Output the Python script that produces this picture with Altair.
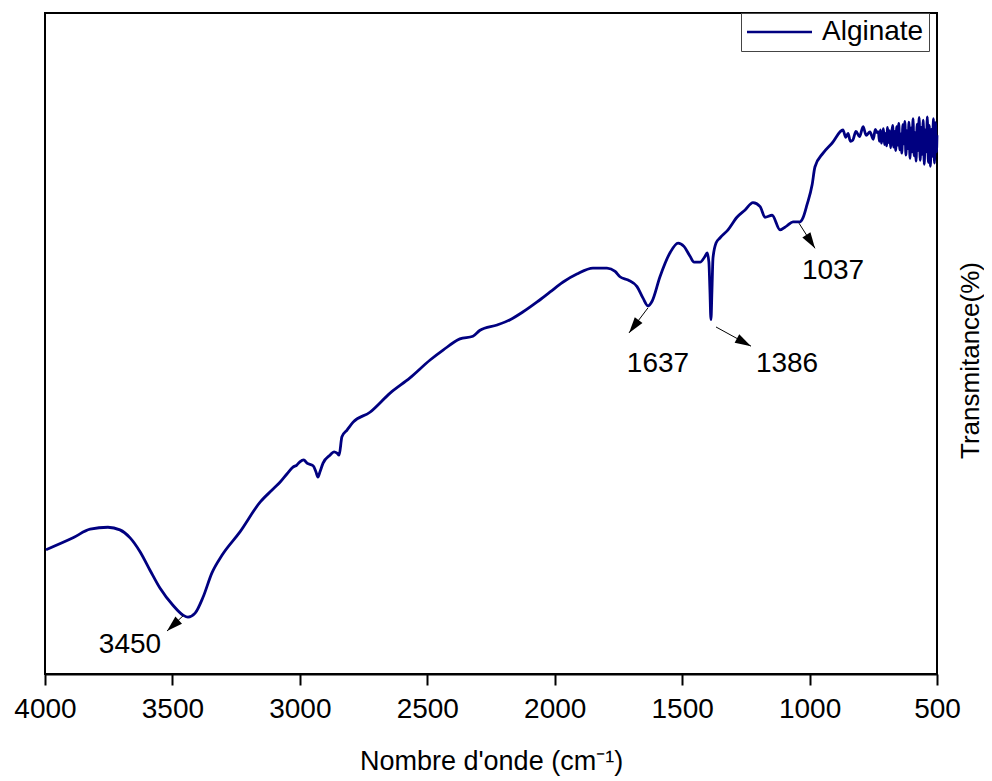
import altair as alt
import pandas as pd

FONT = "Liberation Sans"

# ---- spectrum (wavenumber cm-1, transmittance a.u.) ----
wavenumber = [3996, 3890, 3823, 3753, 3706, 3666, 3627, 3588, 3549, 3498, 3458, 3439,
              3411, 3380, 3345, 3305, 3235, 3156, 3110, 3078, 3050, 3027, 3012, 3000,
              2985, 2972, 2948, 2937, 2929, 2921, 2909, 2882, 2866, 2854, 2846, 2835,
              2815, 2791, 2725, 2646, 2568, 2489, 2438, 2372, 2321, 2293, 2226, 2175,
              2124, 2069, 2018, 1967, 1913, 1850, 1795, 1763, 1744, 1712, 1677, 1654,
              1634, 1618, 1587, 1548, 1516, 1493, 1469, 1453, 1430, 1410, 1402, 1395,
              1391, 1387, 1383, 1379, 1367, 1351, 1320, 1285, 1253, 1222, 1194, 1175,
              1147, 1116, 1089, 1065, 1038, 1026, 1010, 990, 979, 947, 912, 869, 858,
              849, 840, 830, 818, 804, 790, 778, 763, 750, 742, 735,
              730, 726, 722, 718, 714, 710, 706, 702, 698, 694, 690, 686, 682, 678,
              674, 670, 666, 662, 658, 654, 650, 646, 642, 638, 634, 630, 626, 622,
              618, 614, 610, 606, 602, 598, 594, 590, 586, 582, 578, 574, 570, 566,
              562, 558, 554, 550, 546, 542, 538, 534, 530, 526, 522, 518, 514, 510,
              506, 502, 500]
transmittance = [18.8, 20.6, 21.9, 22.2, 21.8, 20.6, 18.5, 15.7, 13.0, 10.4, 8.9, 8.6,
                 9.2, 11.6, 15.3, 18.0, 21.5, 26.0, 27.8, 29.0, 30.3, 31.3, 31.6, 32.1,
                 32.4, 31.9, 31.5, 30.6, 29.8, 30.6, 31.9, 33.1, 33.6, 33.4, 33.1, 35.9,
                 36.9, 38.1, 39.6, 42.5, 44.8, 47.5, 49.0, 50.7, 51.1, 52.0, 52.8, 53.6,
                 54.8, 56.3, 57.8, 59.3, 60.5, 61.4, 61.4, 60.9, 60.1, 59.6, 58.6, 56.9,
                 55.7, 56.4, 60.1, 63.7, 65.2, 64.7, 63.2, 62.3, 62.3, 63.2, 63.7, 62.3,
                 58.1, 53.6, 58.1, 62.9, 65.2, 66.0, 67.2, 69.1, 70.2, 71.3, 70.7, 69.1,
                 69.4, 67.2, 67.8, 68.4, 68.4, 69.0, 71.0, 74.0, 76.7, 78.8, 80.3, 82.3, 81.2,
                 81.8, 80.6, 80.8, 82.1, 81.3, 82.8, 81.5, 82.0, 80.9, 82.4, 81.9,
                 82.0, 80.6, 82.3, 80.3, 81.5, 82.5, 80.1, 81.8, 79.9, 82.7, 80.4, 82.2, 79.6, 81.6,
                 83.0, 79.7, 82.1, 79.2, 82.8, 80.0, 83.3, 79.3, 81.7, 78.8, 83.1, 80.2, 83.6, 78.5,
                 82.2, 79.5, 83.5, 78.0, 82.6, 79.0, 84.0, 78.4, 81.9, 77.6, 83.2, 79.2, 84.2, 77.7,
                 82.7, 78.6, 83.8, 77.1, 82.3, 79.0, 84.3, 77.4, 83.0, 76.8, 82.4, 78.3, 84.0, 77.3,
                 83.4, 79.0, 81.5]
series_name = "Alginate"

# ---- peak annotations ----
peak_labels = ["3450", "1637", "1386", "1037"]
arrow_start_wn = [3458.5, 1633.9, 1367.1, 1041.5]
arrow_start_t = [8.8, 55.4, 52.5, 68.2]
arrow_tip_wn = [3521.3, 1708.5, 1229.8, 978.7]
arrow_tip_t = [6.5, 51.6, 49.6, 64.4]
arrow_angle = [227, 217, 118.5, 147.4]
label_wn = [3666.5, 1594.7, 1088.5, 908.0]
label_t = [4.4, 46.9, 46.9, 61.0]

x_ticks = [4000, 3500, 3000, 2500, 2000, 1500, 1000, 500]

spec = pd.DataFrame({"wn": wavenumber, "t": transmittance, "series": series_name})
ann = pd.DataFrame({
    "label": peak_labels,
    "sw": arrow_start_wn, "st": arrow_start_t,
    "tw": arrow_tip_wn, "tt": arrow_tip_t,
    "angle": arrow_angle,
    "lw": label_wn, "lt": label_t,
})

x_scale = alt.Scale(domain=[500, 4000], reverse=True, nice=False, zero=False)
y_scale = alt.Scale(domain=[0, 100], nice=False, zero=False)

x_axis = alt.Axis(
    values=x_ticks, format="d", title="Nombre d'onde (cm⁻¹)",
    grid=False, tickSize=11, tickWidth=2, tickColor="black",
    domainColor="black", domainWidth=2,
    labelFont=FONT, labelFontSize=28, labelColor="black", labelPadding=10,
    labelFlush=False, labelOverlap=False,
    titleFont=FONT, titleFontSize=27, titleFontWeight="normal", titleColor="black",
    titleBaseline="alphabetic", titleY=95)
y_axis = alt.Axis(
    orient="right", labels=False, ticks=False, domain=False, grid=False,
    title="Transmitance(%)", titleFont=FONT, titleFontSize=26,
    titleFontWeight="normal", titleColor="black", titleAngle=270,
    titleBaseline="middle", titleAlign="center", titleX=33, titleY=347)

line = alt.Chart(spec).mark_line(strokeWidth=2.8, interpolate="monotone").encode(
    x=alt.X("wn:Q", scale=x_scale, axis=x_axis),
    y=alt.Y("t:Q", scale=y_scale, axis=y_axis),
    color=alt.Color("series:N", scale=alt.Scale(domain=[series_name], range=["#000080"]),
                    legend=alt.Legend(
                        title=None, orient="none", legendX=696, legendY=0,
                        symbolType="M-2,0 L8,0", symbolSize=169, symbolStrokeWidth=2.6,
                        labelFont=FONT, labelFontSize=28, labelColor="black",
                        labelOffset=48, padding=5, strokeColor="#444444",
                        fillColor="white", cornerRadius=0)),
)

rules = alt.Chart(ann).mark_rule(color="black", strokeWidth=1).encode(
    x=alt.X("sw:Q", scale=x_scale, axis=x_axis),
    y=alt.Y("st:Q", scale=y_scale, axis=y_axis),
    x2="tw:Q", y2="tt:Q",
)

heads = alt.Chart(ann).mark_point(
    shape="M0,0 L0.6,2 L-0.6,2 Z", filled=True, color="black", opacity=1, size=256
).encode(
    x=alt.X("tw:Q", scale=x_scale, axis=x_axis),
    y=alt.Y("tt:Q", scale=y_scale, axis=y_axis),
    angle=alt.Angle("angle:Q", scale=None),
)

labels = alt.Chart(ann).mark_text(
    font=FONT, fontSize=28, color="black", align="center", baseline="middle"
).encode(
    x=alt.X("lw:Q", scale=x_scale, axis=x_axis),
    y=alt.Y("lt:Q", scale=y_scale, axis=y_axis),
    text="label:N",
)

chart = alt.layer(line, rules, heads, labels).properties(
    width=892, height=661,
    background="white",
    padding={"left": 37, "top": 5, "right": 47, "bottom": 102},
    autosize=alt.AutoSizeParams(type="none"),
).configure_view(stroke="black", strokeWidth=2)

chart.save("out.html", embed_options={"renderer": "svg", "actions": False})
